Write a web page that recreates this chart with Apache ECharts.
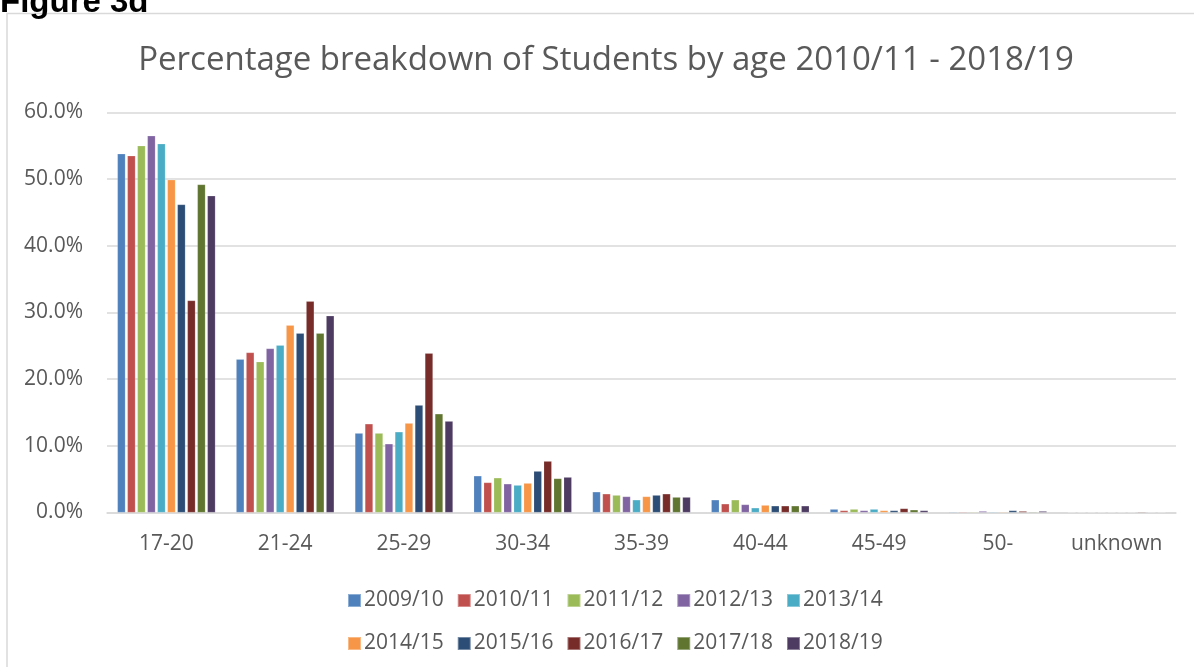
<!DOCTYPE html>
<html>
<head>
<meta charset="utf-8">
<script src="https://cdn.jsdelivr.net/npm/echarts@6/dist/echarts.min.js"></script>
<style>
html,body{margin:0;padding:0;background:#fff;}
#c{width:1194px;height:667px;}
</style>
</head>
<body>
<div id="c"></div>
<script>
const categories = ['17-20','21-24','25-29','30-34','35-39','40-44','45-49','50-','unknown'];
const years = ['2009/10','2010/11','2011/12','2012/13','2013/14','2014/15','2015/16','2016/17','2017/18','2018/19'];
const colors = ['#4F81BD','#C0504D','#9BBB59','#8064A2','#4BACC6','#F79646','#2C4D75','#772C2A','#5F7530','#4D3B62'];
const yTicks = [0, 10, 20, 30, 40, 50, 60];

// percentage values per academic year, in category order
const y2009_10 = [53.8, 23.0, 11.9, 5.5, 3.1, 1.9, 0.5, 0.1, 0.02];
const y2010_11 = [53.5, 24.0, 13.3, 4.5, 2.8, 1.3, 0.3, 0.1, 0.02];
const y2011_12 = [55.0, 22.6, 11.9, 5.2, 2.6, 1.9, 0.5, 0.1, 0.02];
const y2012_13 = [56.5, 24.6, 10.3, 4.3, 2.4, 1.2, 0.3, 0.2, 0.02];
const y2013_14 = [55.3, 25.1, 12.1, 4.1, 1.9, 0.7, 0.5, 0.1, 0.02];
const y2014_15 = [49.9, 28.1, 13.4, 4.4, 2.4, 1.1, 0.3, 0.1, 0.02];
const y2015_16 = [46.2, 26.9, 16.1, 6.2, 2.6, 1.0, 0.3, 0.3, 0.05];
const y2016_17 = [31.8, 31.7, 23.9, 7.7, 2.8, 1.0, 0.6, 0.2, 0.1];
const y2017_18 = [49.2, 26.9, 14.8, 5.1, 2.3, 1.0, 0.4, 0.1, 0.05];
const y2018_19 = [47.5, 29.5, 13.7, 5.3, 2.3, 1.0, 0.3, 0.2, 0.05];
const seriesValues = [y2009_10, y2010_11, y2011_12, y2012_13, y2013_14, y2014_15, y2015_16, y2016_17, y2017_18, y2018_19];

const FONT = '"Open Sans", "Noto Sans", sans-serif';
const TXT = '#595959';

const chart = echarts.init(document.getElementById('c'), null, {renderer: 'canvas'});

const legendBase = {
  orient: 'horizontal',
  left: 342,
  itemWidth: 13,
  itemHeight: 13,
  itemGap: 13,
  icon: 'rect',
  selectedMode: false,
  textStyle: {color: TXT, fontFamily: FONT, fontSize: 21, padding: [0, 0, 0, -2]}
};

chart.setOption({
  animation: false,
  backgroundColor: '#fff',
  color: colors,
  title: {
    text: 'Percentage breakdown of Students by age 2010/11 - 2018/19',
    left: 601,
    textAlign: 'center',
    top: 39,
    textStyle: {color: TXT, fontFamily: FONT, fontSize: 33, fontWeight: 'normal'}
  },
  graphic: [
    {type: 'rect', shape: {x: 7, y: 13.5, width: 1300, height: 800}, style: {fill: 'none', stroke: '#D9D9D9', lineWidth: 1.5}, silent: true},
    {type: 'text', x: 0, y: -14, style: {text: 'Figure 3d', font: 'bold 33px "Liberation Sans", Arial, sans-serif', fill: '#000'}}
  ],
  legend: [
    Object.assign({}, legendBase, {top: 585, data: years.slice(0, 5)}),
    Object.assign({}, legendBase, {top: 628, data: years.slice(5)})
  ],
  grid: {left: 107, right: 18, top: 112.5, bottom: 154.5, containLabel: false},
  xAxis: {
    type: 'category',
    data: categories,
    axisLine: {lineStyle: {color: '#D9D9D9', width: 1.5}},
    axisTick: {show: false},
    axisLabel: {color: TXT, fontFamily: FONT, fontSize: 21, margin: 21, interval: 0}
  },
  yAxis: {
    type: 'value',
    min: yTicks[0],
    max: yTicks[yTicks.length - 1],
    interval: 10,
    axisLine: {show: false},
    axisTick: {show: false},
    splitLine: {lineStyle: {color: '#D9D9D9', width: 1.5}},
    axisLabel: {color: TXT, fontFamily: FONT, fontSize: 21, margin: 24, formatter: v => v.toFixed(1) + '%'}
  },
  series: years.map((y, i) => ({
    name: y,
    type: 'bar',
    data: seriesValues[i],
    barWidth: 8,
    barGap: '25%',
    itemStyle: {color: colors[i], borderColor: 'rgba(255,255,255,0.35)', borderWidth: 0.5}
  }))
});
</script>
</body>
</html>
